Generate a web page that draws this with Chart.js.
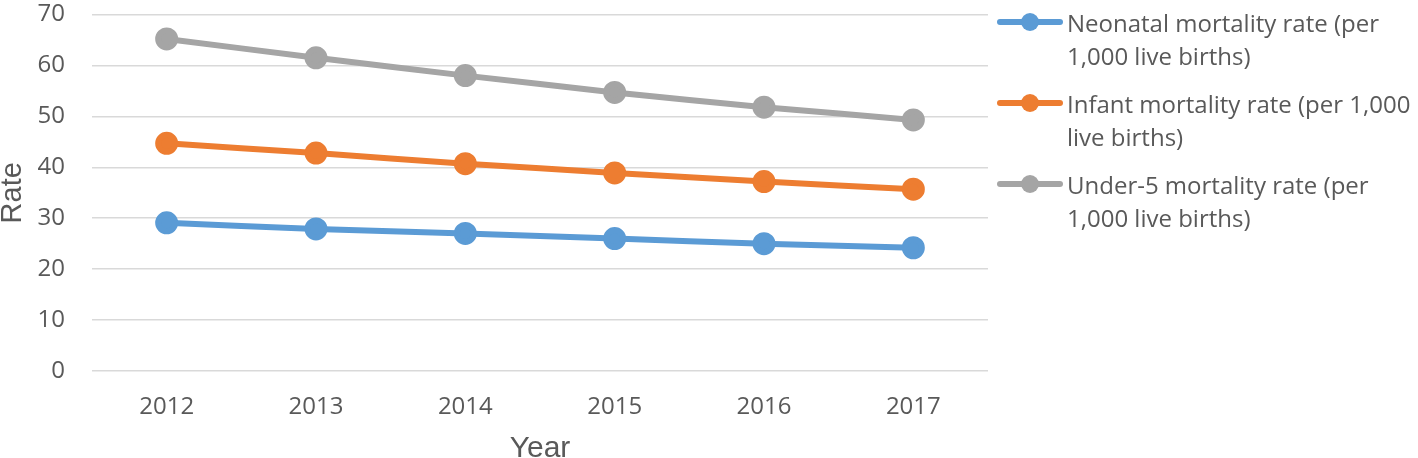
<!DOCTYPE html>
<html>
<head>
<meta charset="utf-8">
<script src="https://cdn.jsdelivr.net/npm/chart.js@4.4.1/dist/chart.umd.min.js"></script>
<style>
    html, body { margin: 0; padding: 0; background: #fff; }
    #wrap { position: relative; width: 1418px; height: 458px; }
    #legend { position: absolute; left: 997px; top: 6px; font-family: "Open Sans", sans-serif; font-size: 24px; color: #595959; }
    .item { display: flex; align-items: flex-start; height: 81px; }
    .swatch { position: relative; width: 66px; height: 33px; flex: none; margin-right: 4px; }
    .swatch .ln { position: absolute; left: 0; right: 0; top: 13px; height: 6px; border-radius: 3px; }
    .swatch .dot { position: absolute; left: 24px; top: 7px; width: 18px; height: 18px; border-radius: 50%; }
    .txt { line-height: 33px; }
</style>
</head>
<body>
<div id="wrap">
    <canvas id="chart" width="1418" height="458"></canvas>
    <div id="legend"></div>
</div>
<script>
// Mortality rates 2012-2017
const years = ['2012', '2013', '2014', '2015', '2016', '2017'];
const neonatal = [29.1, 27.9, 27.0, 26.0, 25.0, 24.2];
const infant = [44.7, 42.8, 40.7, 38.9, 37.2, 35.7];
const under5 = [65.2, 61.5, 58.0, 54.7, 51.8, 49.3];
const seriesNames = [
    ['Neonatal mortality rate (per', '1,000 live births)'],
    ['Infant mortality rate (per 1,000', 'live births)'],
    ['Under-5 mortality rate (per', '1,000 live births)']
];
const colors = ['#5B9BD5', '#ED7D31', '#A5A5A5'];

const tickFont = { family: '"Open Sans", sans-serif', size: 24 };
const titleFamily = '"Liberation Sans", Arial, sans-serif';
const textColor = '#595959';

function makeSet(i, values) {
    return {
        label: seriesNames[i].join(' '),
        data: values,
        borderColor: colors[i],
        backgroundColor: colors[i],
        borderWidth: 6,
        pointRadius: 8.5,
        pointHoverRadius: 8.5,
        tension: 0.15
    };
}

new Chart(document.getElementById('chart'), {
    type: 'line',
    data: {
        labels: years,
        datasets: [makeSet(0, neonatal), makeSet(1, infant), makeSet(2, under5)]
    },
    options: {
        responsive: false,
        animation: false,
        layout: { padding: { top: 10, right: 430, left: 0, bottom: 0 } },
        plugins: { legend: { display: false }, tooltip: { enabled: false } },
        scales: {
            x: {
                offset: true,
                grid: { display: false, drawTicks: false },
                border: { display: false },
                ticks: { color: textColor, font: tickFont, padding: 22 },
                title: { display: true, text: 'Year', color: textColor, font: { family: titleFamily, size: 30 }, padding: { top: 0, bottom: -9 } },
                afterFit: scale => { scale.height = 87; }
            },
            y: {
                min: 0,
                max: 70,
                ticks: { stepSize: 10, color: textColor, font: tickFont, padding: 27 },
                grid: { color: '#D9D9D9', lineWidth: 1.5, drawTicks: false },
                border: { display: false },
                title: { display: true, text: 'Rate', color: textColor, font: { family: titleFamily, size: 29 }, padding: { top: -4, bottom: 0 } },
                afterFit: scale => {
                    scale.width = 92;
                    // tick padding would otherwise push the plot area down
                    scale.paddingTop = 0;
                    scale.paddingBottom = 0;
                }
            }
        }
    }
});

// HTML legend with wrapped labels
const legend = document.getElementById('legend');
seriesNames.forEach((lines, i) => {
    const item = document.createElement('div');
    item.className = 'item';
    item.innerHTML = '<div class="swatch"><div class="ln" style="background:' + colors[i] + '"></div>' +
        '<div class="dot" style="background:' + colors[i] + '"></div></div>' +
        '<div class="txt">' + lines.join('<br>') + '</div>';
    legend.appendChild(item);
});
</script>
</body>
</html>
